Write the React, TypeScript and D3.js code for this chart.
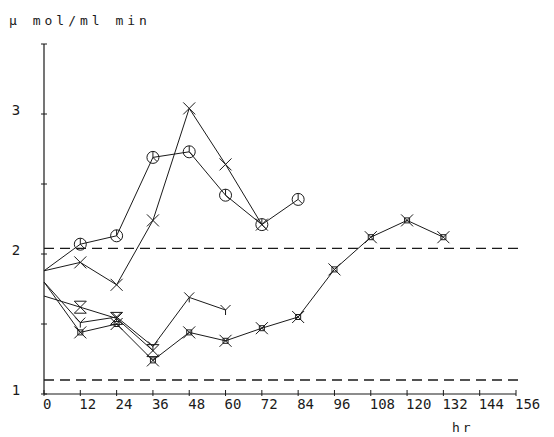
import React, { useEffect, useRef } from 'react';
import * as d3 from 'd3';

// Hours on the x axis and labelled y values
const X_TICKS = [0, 12, 24, 36, 48, 60, 72, 84, 96, 108, 120, 132, 144, 156];
const Y_TICKS = [1, 1.5, 2, 2.5, 3, 3.5];
const Y_LABELS = [1, 2, 3];

// Dashed reference limits
const LIMITS = [2.04, 1.1];

// Series (µmol/ml min vs hr)
const CIRCLE_HR = [0, 12, 24, 36, 48, 60, 72, 84];
const CIRCLE_VAL = [1.88, 2.07, 2.13, 2.69, 2.73, 2.42, 2.21, 2.39];

const CROSS_HR = [0, 12, 24, 36, 48, 60, 72];
const CROSS_VAL = [1.88, 1.94, 1.78, 2.24, 3.04, 2.64, 2.21];

const TICK_HR = [0, 12, 24, 36, 48, 60];
const TICK_VAL = [1.8, 1.51, 1.55, 1.34, 1.69, 1.6];

const GLASS_HR = [0, 12, 24, 36];
const GLASS_VAL = [1.7, 1.62, 1.54, 1.31];

const BOX_HR = [0, 12, 24, 36, 48, 60, 72, 84, 96, 108, 120, 132];
const BOX_VAL = [1.8, 1.44, 1.5, 1.24, 1.44, 1.38, 1.47, 1.55, 1.89, 2.12, 2.24, 2.12];

const INK = '#1a1a1a';
const MONO = 'DejaVu Sans Mono, Liberation Mono, monospace';

type Marker = 'circle' | 'cross' | 'tick' | 'glass' | 'box';

const markerPath = (m: Marker): string => {
  switch (m) {
    case 'circle':
      return 'M6,0A6,6 0 1,1 -6,0A6,6 0 1,1 6,0M0,0L0,-6M0,0L4,4';
    case 'cross':
      return 'M-6,-6L6,6M-6,6L6,-6';
    case 'tick':
      return 'M-5,-5L0,0L5,-5M0,0L0,5';
    case 'glass':
      return 'M-6,-6L6,-6L-6,6L6,6Z';
    case 'box':
      return 'M-6,-6L6,6M-6,6L6,-6M-2.5,-2.5H2.5V2.5H-2.5Z';
  }
};

export default function App() {
  const ref = useRef<SVGSVGElement>(null);

  useEffect(() => {
    const svgEl = ref.current;
    if (!svgEl) return;
    const svg = d3.select(svgEl);
    svg.selectAll('*').remove();

    const x = d3.scaleLinear().domain([0, 156]).range([44, 516]);
    const y = d3.scaleLinear().domain([1, 3.5]).range([394, 44]);

    // axes
    svg.append('line')
      .attr('x1', x(0)).attr('x2', x(156))
      .attr('y1', y(1)).attr('y2', y(1))
      .attr('stroke', INK).attr('stroke-width', 1.2);
    svg.append('line')
      .attr('x1', x(0)).attr('x2', x(0))
      .attr('y1', y(1)).attr('y2', y(3.5))
      .attr('stroke', INK).attr('stroke-width', 1.2);

    svg.selectAll('line.xt')
      .data(X_TICKS)
      .join('line')
      .attr('class', 'xt')
      .attr('x1', (d) => x(d)).attr('x2', (d) => x(d))
      .attr('y1', y(1) - 4).attr('y2', y(1) + 2)
      .attr('stroke', INK);

    svg.selectAll('line.yt')
      .data(Y_TICKS)
      .join('line')
      .attr('class', 'yt')
      .attr('x1', x(0) - 3).attr('x2', x(0) + 3)
      .attr('y1', (d) => y(d)).attr('y2', (d) => y(d))
      .attr('stroke', INK);

    svg.selectAll('text.xl')
      .data(X_TICKS)
      .join('text')
      .attr('class', 'xl')
      .attr('x', (d) => x(d) - 1)
      .attr('y', y(1) + 15)
      .attr('font-family', MONO)
      .attr('font-size', 14)
      .attr('fill', INK)
      .text((d) => String(d));

    svg.selectAll('text.yl')
      .data(Y_LABELS)
      .join('text')
      .attr('class', 'yl')
      .attr('x', 16)
      .attr('y', (d) => y(d) + 1)
      .attr('text-anchor', 'middle')
      .attr('font-family', MONO)
      .attr('font-size', 14)
      .attr('fill', INK)
      .text((d) => String(d));

    svg.append('text')
      .attr('x', 9).attr('y', 25)
      .attr('font-family', MONO)
      .attr('font-size', 13)
      .attr('letter-spacing', 4)
      .attr('fill', INK)
      .text('\u03bc mol/ml min');

    svg.append('text')
      .attr('x', 452).attr('y', 432)
      .attr('font-family', MONO)
      .attr('font-size', 13)
      .attr('letter-spacing', 3)
      .attr('fill', INK)
      .text('hr');

    // dashed limits
    svg.selectAll('line.lim')
      .data(LIMITS)
      .join('line')
      .attr('class', 'lim')
      .attr('x1', x(0)).attr('x2', x(157))
      .attr('y1', (d) => y(d)).attr('y2', (d) => y(d))
      .attr('stroke', INK)
      .attr('stroke-width', 1.3)
      .attr('stroke-dasharray', '10 6');

    const series: { hr: number[]; val: number[]; marker: Marker }[] = [
      { hr: CIRCLE_HR, val: CIRCLE_VAL, marker: 'circle' },
      { hr: CROSS_HR, val: CROSS_VAL, marker: 'cross' },
      { hr: TICK_HR, val: TICK_VAL, marker: 'tick' },
      { hr: GLASS_HR, val: GLASS_VAL, marker: 'glass' },
      { hr: BOX_HR, val: BOX_VAL, marker: 'box' },
    ];

    const line = d3.line<[number, number]>()
      .x((d) => x(d[0]))
      .y((d) => y(d[1]));

    series.forEach((s) => {
      const pts = s.hr.map((h, i) => [h, s.val[i]] as [number, number]);
      svg.append('path')
        .attr('d', line(pts) ?? '')
        .attr('fill', 'none')
        .attr('stroke', INK)
        .attr('stroke-width', 1);
      svg.selectAll(null)
        .data(pts.slice(1))
        .join('path')
        .attr('transform', (d) => `translate(${x(d[0])},${y(d[1])})`)
        .attr('d', markerPath(s.marker))
        .attr('fill', 'none')
        .attr('stroke', INK)
        .attr('stroke-width', 1);
    });
  }, []);

  return (
    <svg
      ref={ref}
      width={554}
      height={437}
      style={{ position: 'absolute', left: 0, top: 0, background: '#fff' }}
    />
  );
}
